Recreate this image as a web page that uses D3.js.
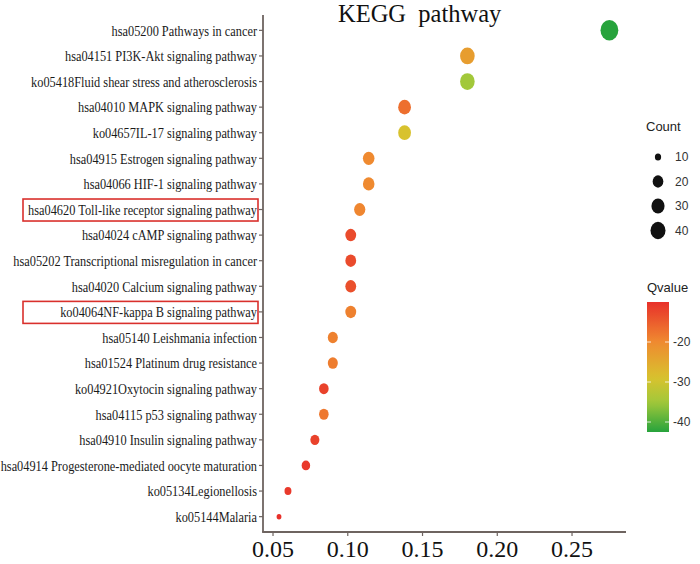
<!DOCTYPE html>
<html>
<head>
<meta charset="utf-8">
<script src="https://cdn.jsdelivr.net/npm/d3@7"></script>
<style>
  html, body { margin: 0; padding: 0; background: #fff; }
  svg { display: block; }
</style>
</head>
<body>
<svg id="chart" width="700" height="564"></svg>
<script>
// ---- data ----
const pathways = [
  "hsa05200 Pathways in cancer",
  "hsa04151 PI3K-Akt signaling pathway",
  "ko05418Fluid shear stress and atherosclerosis",
  "hsa04010 MAPK signaling pathway",
  "ko04657IL-17 signaling pathway",
  "hsa04915 Estrogen signaling pathway",
  "hsa04066 HIF-1 signaling pathway",
  "hsa04620 Toll-like receptor signaling pathway",
  "hsa04024 cAMP signaling pathway",
  "hsa05202 Transcriptional misregulation in cancer",
  "hsa04020 Calcium signaling pathway",
  "ko04064NF-kappa B signaling pathway",
  "hsa05140 Leishmania infection",
  "hsa01524 Platinum drug resistance",
  "ko04921Oxytocin signaling pathway",
  "hsa04115 p53 signaling pathway",
  "hsa04910 Insulin signaling pathway",
  "hsa04914 Progesterone-mediated oocyte maturation",
  "ko05134Legionellosis",
  "ko05144Malaria"
];
const richFactor = [0.275, 0.180, 0.180, 0.138, 0.138, 0.114, 0.114, 0.108, 0.102, 0.102,
                    0.102, 0.102, 0.090, 0.090, 0.084, 0.084, 0.078, 0.072, 0.060, 0.054];
const counts = [46, 30, 30, 23, 23, 19, 19, 18, 17, 17, 17, 17, 15, 15, 14, 14, 13, 12, 10, 9];
const qvalues = [-42.5, -23, -35, -17, -29, -20, -20, -19.5, -13, -13,
                 -13.5, -19, -19, -18.5, -12, -18, -12, -11, -11, -10];
const highlighted = ["hsa04620 Toll-like receptor signaling pathway", "ko04064NF-kappa B signaling pathway"];
const xTicks = [0.05, 0.10, 0.15, 0.20, 0.25];
const countLegend = [10, 20, 30, 40];
const qTicks = [-20, -30, -40];

const data = pathways.map((p, i) => ({ p, x: richFactor[i], n: counts[i], q: qvalues[i] }));

// ---- scales ----
const svg = d3.select("#chart");
const plot = { left: 263, right: 626, top: 15, bottom: 532 };

const x = d3.scaleLinear().domain([0.0433, 0.2861]).range([plot.left, plot.right]);
const y = d3.scalePoint().domain(pathways).range([plot.top, plot.bottom]).padding(0.6);

const nExt = d3.extent(counts);
const sizeNorm = d3.scaleLinear().domain(nExt).range([0, 1]);
const diam = v => 4.8 + 13 * Math.sqrt(Math.max(0, sizeNorm(v)));
const yStretch = 1.15;

const color = d3.scaleLinear()
  .domain([-42.5, -35, -29, -20, -10])
  .range(["#27a33c", "#a2c83a", "#d8c22e", "#ef8a30", "#e8302a"])
  .interpolate(d3.interpolateRgb);

const axisColor = "#6e6460";
const serif = "'Liberation Serif', 'Times New Roman', serif";

// ---- title ----
svg.append("text")
  .attr("x", 338).attr("y", 22)
  .attr("font-family", serif)
  .attr("font-size", 24.5)
  .attr("fill", "#111")
  .style("white-space", "pre")
  .text("KEGG  pathway");

// ---- axes ----
svg.append("line")
  .attr("x1", plot.left).attr("x2", plot.left)
  .attr("y1", plot.top).attr("y2", plot.bottom)
  .attr("stroke", axisColor).attr("stroke-width", 1.8);
svg.append("line")
  .attr("x1", plot.left - 0.9).attr("x2", plot.right)
  .attr("y1", plot.bottom).attr("y2", plot.bottom)
  .attr("stroke", axisColor).attr("stroke-width", 1.8);

// y ticks + labels
const yg = svg.append("g");
yg.selectAll("line.yt").data(pathways).join("line")
  .attr("class", "yt")
  .attr("x1", plot.left - 4).attr("x2", plot.left)
  .attr("y1", d => y(d)).attr("y2", d => y(d))
  .attr("stroke", axisColor).attr("stroke-width", 1.2);
yg.selectAll("text.yl").data(pathways).join("text")
  .attr("class", "yl")
  .attr("transform", d => `translate(257,${y(d)}) scale(0.845,1)`)
  .attr("dy", "0.36em")
  .attr("text-anchor", "end")
  .attr("font-family", serif)
  .attr("font-size", 14.6)
  .attr("fill", "#1a1a1a")
  .text(d => d);

// highlight boxes
svg.selectAll("rect.hl").data(highlighted).join("rect")
  .attr("class", "hl")
  .attr("x", 23).attr("width", 235)
  .attr("y", d => y(d) - 10.5).attr("height", 22)
  .attr("fill", "none")
  .attr("stroke", "#d9302c").attr("stroke-width", 1.6);

// x ticks + labels
const xg = svg.append("g");
xg.selectAll("line.xt").data(xTicks).join("line")
  .attr("class", "xt")
  .attr("x1", d => x(d)).attr("x2", d => x(d))
  .attr("y1", plot.bottom).attr("y2", plot.bottom + 4)
  .attr("stroke", axisColor).attr("stroke-width", 1.2);
xg.selectAll("text.xl").data(xTicks).join("text")
  .attr("class", "xl")
  .attr("x", d => x(d)).attr("y", 557)
  .attr("text-anchor", "middle")
  .attr("font-family", serif)
  .attr("font-size", 24)
  .attr("fill", "#111")
  .text(d => d3.format(".2f")(d));

// ---- points ----
svg.append("g").selectAll("ellipse").data(data).join("ellipse")
  .attr("cx", d => x(d.x))
  .attr("cy", d => y(d.p))
  .attr("rx", d => diam(d.n) / 2)
  .attr("ry", d => diam(d.n) / 2 * yStretch)
  .attr("fill", d => color(d.q));

// ---- Count legend ----
const sans = "'Liberation Sans', Arial, sans-serif";
svg.append("text")
  .attr("x", 646).attr("y", 131)
  .attr("font-family", sans).attr("font-size", 13)
  .attr("fill", "#222")
  .text("Count");
const cl = svg.append("g");
countLegend.forEach((c, i) => {
  const cy = 157 + i * 24.5;
  cl.append("ellipse")
    .attr("cx", 658).attr("cy", cy)
    .attr("rx", diam(c) / 2 * 0.9).attr("ry", diam(c) / 2 * 0.9 * yStretch)
    .attr("fill", "#111");
  cl.append("text")
    .attr("x", 675).attr("y", cy).attr("dy", "0.36em")
    .attr("font-family", sans).attr("font-size", 12)
    .attr("fill", "#333")
    .text(c);
});

// ---- Qvalue colorbar ----
svg.append("text")
  .attr("x", 647).attr("y", 292)
  .attr("font-family", sans).attr("font-size", 13)
  .attr("fill", "#222")
  .text("Qvalue");

const qScale = d3.scaleLinear().domain([-42.5, -10]).range([432, 302]);
const defs = svg.append("defs");
const grad = defs.append("linearGradient")
  .attr("id", "qgrad").attr("x1", 0).attr("x2", 0).attr("y1", 1).attr("y2", 0);
const gStops = d3.range(0, 1.0001, 0.05);
grad.selectAll("stop").data(gStops).join("stop")
  .attr("offset", d => d)
  .attr("stop-color", d => color(-42.5 + d * 32.5));

svg.append("rect")
  .attr("x", 647).attr("width", 22)
  .attr("y", qScale(-10)).attr("height", qScale(-42.5) - qScale(-10))
  .attr("fill", "url(#qgrad)");

const qg = svg.append("g");
qTicks.forEach(t => {
  const ty = qScale(t);
  qg.append("line").attr("x1", 647).attr("x2", 651).attr("y1", ty).attr("y2", ty)
    .attr("stroke", "#fff").attr("stroke-opacity", 0.8).attr("stroke-width", 1);
  qg.append("line").attr("x1", 665).attr("x2", 669).attr("y1", ty).attr("y2", ty)
    .attr("stroke", "#fff").attr("stroke-opacity", 0.8).attr("stroke-width", 1);
  qg.append("text")
    .attr("x", 673).attr("y", ty).attr("dy", "0.36em")
    .attr("font-family", sans).attr("font-size", 12)
    .attr("fill", "#333")
    .text(t);
});
</script>
</body>
</html>
